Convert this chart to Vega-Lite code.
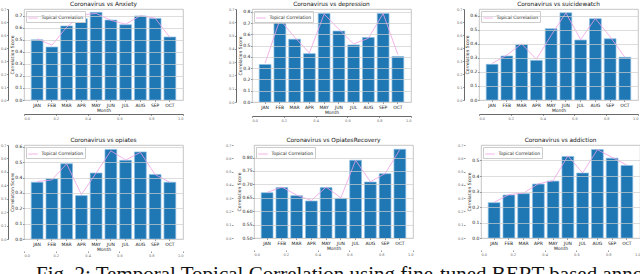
{
  "$schema": "https://vega.github.io/schema/vega-lite/v6.json",
  "padding": {"left": 0, "top": 0, "right": 0, "bottom": 0},
  "background": "white",
  "config": {
    "font": "DejaVu Sans",
    "view": {"stroke": "#b8b8b8", "strokeWidth": 0.8},
    "axis": {
      "labelFontSize": 4.5, "titleFontSize": 4.5, "labelColor": "#222", "titleColor": "#222",
      "titleFontWeight": "normal", "gridColor": "#cfcfcf", "gridWidth": 0.7, "domain": false,
      "tickColor": "#555", "tickSize": 1.5, "tickWidth": 0.6, "labelPadding": 0.5, "titlePadding": 0.5,
      "labelOverlap": false, "labelFlush": false
    },
    "title": {"fontSize": 5.8, "fontWeight": "normal", "offset": 0.5, "color": "#111"},
    "legend": {
      "orient": "top-left", "offset": 2, "labelFontSize": 4.5, "symbolType": "stroke", "symbolSize": 90,
      "symbolStrokeWidth": 1, "fillColor": "white", "strokeColor": "#cccccc", "padding": 1.5, "labelColor": "#222",
      "labelOffset": 3
    },
    "bar": {"color": "#1f77b4", "stroke": "#8dbde3", "strokeWidth": 0.7},
    "line": {"strokeWidth": 0.8}
  },
  "datasets": {
    "anxiety": [
      {"month": "JAN", "score": 0.500, "topical": 0.510},
      {"month": "FEB", "score": 0.440, "topical": 0.455},
      {"month": "MAR", "score": 0.615, "topical": 0.605},
      {"month": "APR", "score": 0.675, "topical": 0.705},
      {"month": "MAY", "score": 0.728, "topical": 0.720},
      {"month": "JUN", "score": 0.664, "topical": 0.662},
      {"month": "JUL", "score": 0.625, "topical": 0.630},
      {"month": "AUG", "score": 0.698, "topical": 0.700},
      {"month": "SEP", "score": 0.678, "topical": 0.680},
      {"month": "OCT", "score": 0.523, "topical": 0.520}
    ],
    "depression": [
      {"month": "JAN", "score": 0.333, "topical": 0.345},
      {"month": "FEB", "score": 0.728, "topical": 0.730},
      {"month": "MAR", "score": 0.557, "topical": 0.575},
      {"month": "APR", "score": 0.429, "topical": 0.435},
      {"month": "MAY", "score": 0.785, "topical": 0.780},
      {"month": "JUN", "score": 0.629, "topical": 0.645},
      {"month": "JUL", "score": 0.506, "topical": 0.515},
      {"month": "AUG", "score": 0.572, "topical": 0.565},
      {"month": "SEP", "score": 0.785, "topical": 0.785},
      {"month": "OCT", "score": 0.404, "topical": 0.420}
    ],
    "suicidewatch": [
      {"month": "JAN", "score": 0.254, "topical": 0.260},
      {"month": "FEB", "score": 0.313, "topical": 0.320},
      {"month": "MAR", "score": 0.396, "topical": 0.400},
      {"month": "APR", "score": 0.282, "topical": 0.290},
      {"month": "MAY", "score": 0.507, "topical": 0.460},
      {"month": "JUN", "score": 0.621, "topical": 0.620},
      {"month": "JUL", "score": 0.427, "topical": 0.430},
      {"month": "AUG", "score": 0.579, "topical": 0.580},
      {"month": "SEP", "score": 0.436, "topical": 0.450},
      {"month": "OCT", "score": 0.304, "topical": 0.305}
    ],
    "opiates": [
      {"month": "JAN", "score": 0.370, "topical": 0.375},
      {"month": "FEB", "score": 0.393, "topical": 0.385},
      {"month": "MAR", "score": 0.491, "topical": 0.490},
      {"month": "APR", "score": 0.283, "topical": 0.290},
      {"month": "MAY", "score": 0.430, "topical": 0.430},
      {"month": "JUN", "score": 0.584, "topical": 0.575},
      {"month": "JUL", "score": 0.513, "topical": 0.515},
      {"month": "AUG", "score": 0.568, "topical": 0.565},
      {"month": "SEP", "score": 0.421, "topical": 0.420},
      {"month": "OCT", "score": 0.370, "topical": 0.370}
    ],
    "opiatesrecovery": [
      {"month": "JAN", "score": 0.669, "topical": 0.670},
      {"month": "FEB", "score": 0.688, "topical": 0.690},
      {"month": "MAR", "score": 0.658, "topical": 0.660},
      {"month": "APR", "score": 0.638, "topical": 0.640},
      {"month": "MAY", "score": 0.688, "topical": 0.690},
      {"month": "JUN", "score": 0.648, "topical": 0.650},
      {"month": "JUL", "score": 0.790, "topical": 0.790},
      {"month": "AUG", "score": 0.709, "topical": 0.710},
      {"month": "SEP", "score": 0.740, "topical": 0.740},
      {"month": "OCT", "score": 0.831, "topical": 0.830}
    ],
    "addiction": [
      {"month": "JAN", "score": 0.228, "topical": 0.230},
      {"month": "FEB", "score": 0.277, "topical": 0.280},
      {"month": "MAR", "score": 0.286, "topical": 0.290},
      {"month": "APR", "score": 0.348, "topical": 0.350},
      {"month": "MAY", "score": 0.367, "topical": 0.370},
      {"month": "JUN", "score": 0.526, "topical": 0.530},
      {"month": "JUL", "score": 0.419, "topical": 0.420},
      {"month": "AUG", "score": 0.571, "topical": 0.570},
      {"month": "SEP", "score": 0.515, "topical": 0.520},
      {"month": "OCT", "score": 0.468, "topical": 0.470}
    ],
    "caption": [
      {"text": "Fig. 2: Temporal Topical Correlation using fine-tuned BERT-based annotation"}
    ]
  },
  "spacing": 3,
  "resolve": {"scale": {"color": "independent"}, "legend": {"color": "independent"}},
  "vconcat": [
    {
      "spacing": 14,
      "resolve": {"scale": {"color": "independent"}, "legend": {"color": "independent"}},
      "vconcat": [
        {
          "spacing": 44,
          "resolve": {"scale": {"color": "independent"}, "legend": {"color": "independent"}},
          "hconcat": [
            {
              "title": "Coronavirus vs Anxiety",
              "width": 159, "height": 91,
              "data": {"name": "anxiety"},
              "resolve": {"scale": {"x": "independent", "y": "independent"}, "axis": {"x": "independent", "y": "independent"}},
              "layer": [
                {
                  "encoding": {"x": {"field": "month", "type": "nominal", "sort": null, "title": "Month",
                    "scale": {"paddingInner": 0.2, "paddingOuter": 0.49}, "axis": {"labelAngle": 0, "zindex": 1}}},
                  "layer": [
                    {"mark": {"type": "bar", "clip": true},
                     "encoding": {"y": {"field": "score", "type": "quantitative", "title": "Correlation Score",
                       "scale": {"domain": [0, 0.756], "nice": false, "zero": false},
                       "axis": {"values": [0, 0.1, 0.2, 0.3, 0.4, 0.5, 0.6, 0.7], "tickCount": 8, "labelOverlap": false, "format": ".1f", "zindex": 1}}}},
                    {"mark": {"type": "line", "clip": true},
                     "encoding": {"y": {"field": "topical", "type": "quantitative", "title": "Correlation Score",
                       "axis": {"values": [0, 0.1, 0.2, 0.3, 0.4, 0.5, 0.6, 0.7], "tickCount": 8, "labelOverlap": false, "format": ".1f", "zindex": 1}},
                       "color": {"datum": "Topical Correlation", "type": "nominal", "scale": {"range": ["#f09fe4"]}, "legend": {"title": null}}}}
                  ]
                },
                {
                  "mark": {"type": "point", "opacity": 0},
                  "encoding": {
                    "x": {"datum": 0, "type": "quantitative", "scale": {"domain": [0, 1], "nice": false},
                      "axis": {"orient": "bottom", "offset": 14, "title": null, "values": [0, 0.2, 0.4, 0.6, 0.8, 1.0], "format": ".1f", "domain": true, "domainColor": "#444", "domainWidth": 0.8, "grid": false, "labelFontSize": 3.5, "labelColor": "#666", "labelFlush": true}},
                    "y": {"datum": 0, "type": "quantitative", "scale": {"domain": [0, 0.7], "nice": false},
                      "axis": {"orient": "left", "offset": 16, "title": null, "values": [0, 0.1, 0.2, 0.3, 0.4, 0.5, 0.6, 0.7], "format": ".1f", "domain": true, "domainColor": "#444", "domainWidth": 0.8, "grid": false, "labelFontSize": 3.5, "labelColor": "#666"}}
                  }
                }
              ]
            },
            {
              "title": "Coronavirus vs depression",
              "width": 159, "height": 93,
              "data": {"name": "depression"},
              "resolve": {"scale": {"x": "independent", "y": "independent"}, "axis": {"x": "independent", "y": "independent"}},
              "layer": [
                {
                  "encoding": {"x": {"field": "month", "type": "nominal", "sort": null, "title": "Month",
                    "scale": {"paddingInner": 0.2, "paddingOuter": 0.49}, "axis": {"labelAngle": 0, "zindex": 1}}},
                  "layer": [
                    {"mark": {"type": "bar", "clip": true},
                     "encoding": {"y": {"field": "score", "type": "quantitative", "title": "Correlation Score",
                       "scale": {"domain": [0, 0.825], "nice": false, "zero": false},
                       "axis": {"values": [0, 0.1, 0.2, 0.3, 0.4, 0.5, 0.6, 0.7, 0.8], "tickCount": 9, "labelOverlap": false, "format": ".1f", "zindex": 1}}}},
                    {"mark": {"type": "line", "clip": true},
                     "encoding": {"y": {"field": "topical", "type": "quantitative", "title": "Correlation Score",
                       "axis": {"values": [0, 0.1, 0.2, 0.3, 0.4, 0.5, 0.6, 0.7, 0.8], "tickCount": 9, "labelOverlap": false, "format": ".1f", "zindex": 1}},
                       "color": {"datum": "Topical Correlation", "type": "nominal", "scale": {"range": ["#f09fe4"]}, "legend": {"title": null}}}}
                  ]
                },
                {
                  "mark": {"type": "point", "opacity": 0},
                  "encoding": {
                    "x": {"datum": 0, "type": "quantitative", "scale": {"domain": [0, 1], "nice": false},
                      "axis": {"orient": "bottom", "offset": 14, "title": null, "values": [0, 0.2, 0.4, 0.6, 0.8, 1.0], "format": ".1f", "domain": true, "domainColor": "#444", "domainWidth": 0.8, "grid": false, "labelFontSize": 3.5, "labelColor": "#666", "labelFlush": true}},
                    "y": {"datum": 0, "type": "quantitative", "scale": {"domain": [0, 0.7], "nice": false},
                      "axis": {"orient": "left", "offset": 16, "title": null, "values": [0, 0.1, 0.2, 0.3, 0.4, 0.5, 0.6, 0.7], "format": ".1f", "domain": true, "domainColor": "#444", "domainWidth": 0.8, "grid": false, "labelFontSize": 3.5, "labelColor": "#666"}}
                  }
                }
              ]
            },
            {
              "title": "Coronavirus vs suicidewatch",
              "width": 159, "height": 91,
              "data": {"name": "suicidewatch"},
              "resolve": {"scale": {"x": "independent", "y": "independent"}, "axis": {"x": "independent", "y": "independent"}},
              "layer": [
                {
                  "encoding": {"x": {"field": "month", "type": "nominal", "sort": null, "title": "Month",
                    "scale": {"paddingInner": 0.2, "paddingOuter": 0.49}, "axis": {"labelAngle": 0, "zindex": 1}}},
                  "layer": [
                    {"mark": {"type": "bar", "clip": true},
                     "encoding": {"y": {"field": "score", "type": "quantitative", "title": "Correlation Score",
                       "scale": {"domain": [0, 0.648], "nice": false, "zero": false},
                       "axis": {"values": [0, 0.1, 0.2, 0.3, 0.4, 0.5, 0.6], "tickCount": 7, "labelOverlap": false, "format": ".1f", "zindex": 1}}}},
                    {"mark": {"type": "line", "clip": true},
                     "encoding": {"y": {"field": "topical", "type": "quantitative", "title": "Correlation Score",
                       "axis": {"values": [0, 0.1, 0.2, 0.3, 0.4, 0.5, 0.6], "tickCount": 7, "labelOverlap": false, "format": ".1f", "zindex": 1}},
                       "color": {"datum": "Topical Correlation", "type": "nominal", "scale": {"range": ["#f09fe4"]}, "legend": {"title": null}}}}
                  ]
                },
                {
                  "mark": {"type": "point", "opacity": 0},
                  "encoding": {
                    "x": {"datum": 0, "type": "quantitative", "scale": {"domain": [0, 1], "nice": false},
                      "axis": {"orient": "bottom", "offset": 14, "title": null, "values": [0, 0.2, 0.4, 0.6, 0.8, 1.0], "format": ".1f", "domain": true, "domainColor": "#444", "domainWidth": 0.8, "grid": false, "labelFontSize": 3.5, "labelColor": "#666", "labelFlush": true}},
                    "y": {"datum": 0, "type": "quantitative", "scale": {"domain": [0, 0.7], "nice": false},
                      "axis": {"orient": "left", "offset": 15, "title": null, "values": [0, 0.1, 0.2, 0.3, 0.4, 0.5, 0.6, 0.7], "format": ".1f", "domain": true, "domainColor": "#444", "domainWidth": 0.8, "grid": false, "labelFontSize": 3.5, "labelColor": "#666"}}
                  }
                }
              ]
            }
          ]
        },
        {
          "spacing": 43,
          "resolve": {"scale": {"color": "independent"}, "legend": {"color": "independent"}},
          "hconcat": [
            {
              "spacing": 41,
              "resolve": {"scale": {"color": "independent"}, "legend": {"color": "independent"}},
              "hconcat": [
                {
                  "title": "Coronavirus vs opiates",
                  "width": 159, "height": 94,
                  "data": {"name": "opiates"},
                  "resolve": {"scale": {"x": "independent", "y": "independent"}, "axis": {"x": "independent", "y": "independent"}},
                  "layer": [
                    {
                      "encoding": {"x": {"field": "month", "type": "nominal", "sort": null, "title": "Month",
                        "scale": {"paddingInner": 0.2, "paddingOuter": 0.49}, "axis": {"labelAngle": 0, "zindex": 1}}},
                      "layer": [
                        {"mark": {"type": "bar", "clip": true},
                         "encoding": {"y": {"field": "score", "type": "quantitative", "title": "Correlation Score",
                           "scale": {"domain": [0, 0.613], "nice": false, "zero": false},
                           "axis": {"values": [0, 0.1, 0.2, 0.3, 0.4, 0.5, 0.6], "tickCount": 7, "labelOverlap": false, "format": ".1f", "zindex": 1}}}},
                        {"mark": {"type": "line", "clip": true},
                         "encoding": {"y": {"field": "topical", "type": "quantitative", "title": "Correlation Score",
                           "axis": {"values": [0, 0.1, 0.2, 0.3, 0.4, 0.5, 0.6], "tickCount": 7, "labelOverlap": false, "format": ".1f", "zindex": 1}},
                           "color": {"datum": "Topical Correlation", "type": "nominal", "scale": {"range": ["#f09fe4"]}, "legend": {"title": null}}}}
                      ]
                    },
                    {
                      "mark": {"type": "point", "opacity": 0},
                      "encoding": {
                        "x": {"datum": 0, "type": "quantitative", "scale": {"domain": [0, 1], "nice": false},
                          "axis": {"orient": "bottom", "offset": 12, "title": null, "values": [0, 0.2, 0.4, 0.6, 0.8, 1.0], "format": ".1f", "domain": false, "grid": false, "labelFontSize": 3.5, "labelColor": "#666", "labelFlush": true}},
                        "y": {"datum": 0, "type": "quantitative", "scale": {"domain": [0, 0.7], "nice": false},
                          "axis": {"orient": "left", "offset": 16, "title": null, "values": [0, 0.1, 0.2, 0.3, 0.4, 0.5, 0.6, 0.7], "format": ".1f", "domain": true, "domainColor": "#444", "domainWidth": 0.8, "grid": false, "labelFontSize": 3.5, "labelColor": "#666"}}
                      }
                    }
                  ]
                },
                {
                  "title": "Coronavirus vs OpiatesRecovery",
                  "width": 159, "height": 93,
                  "data": {"name": "opiatesrecovery"},
                  "resolve": {"scale": {"x": "independent", "y": "independent"}, "axis": {"x": "independent", "y": "independent"}},
                  "layer": [
                    {
                      "encoding": {"x": {"field": "month", "type": "nominal", "sort": null, "title": "Month",
                        "scale": {"paddingInner": 0.2, "paddingOuter": 0.49}, "axis": {"labelAngle": 0, "zindex": 1}}},
                      "layer": [
                        {"mark": {"type": "bar", "clip": true},
                         "encoding": {"y": {"field": "score", "type": "quantitative", "title": "Correlation Score",
                           "scale": {"domain": [0.5, 0.847], "nice": false, "zero": false},
                           "axis": {"values": [0.5, 0.55, 0.6, 0.65, 0.7, 0.75, 0.8], "tickCount": 7, "labelOverlap": false, "format": ".2f", "zindex": 1}}}},
                        {"mark": {"type": "line", "clip": true},
                         "encoding": {"y": {"field": "topical", "type": "quantitative", "title": "Correlation Score",
                           "axis": {"values": [0.5, 0.55, 0.6, 0.65, 0.7, 0.75, 0.8], "tickCount": 7, "labelOverlap": false, "format": ".2f", "zindex": 1}},
                           "color": {"datum": "Topical Correlation", "type": "nominal", "scale": {"range": ["#f09fe4"]}, "legend": {"title": null}}}}
                      ]
                    },
                    {
                      "mark": {"type": "point", "opacity": 0},
                      "encoding": {
                        "x": {"datum": 0, "type": "quantitative", "scale": {"domain": [0, 1], "nice": false},
                          "axis": {"orient": "bottom", "offset": 12, "title": null, "values": [0, 0.2, 0.4, 0.6, 0.8, 1.0], "format": ".1f", "domain": false, "grid": false, "labelFontSize": 3.5, "labelColor": "#666", "labelFlush": true}},
                        "y": {"datum": 0, "type": "quantitative", "scale": {"domain": [0, 0.7], "nice": false},
                          "axis": {"orient": "left", "offset": 21, "title": null, "values": [0, 0.1, 0.2, 0.3, 0.4, 0.5, 0.6, 0.7], "format": ".1f", "domain": false, "grid": false, "labelFontSize": 3.5, "labelColor": "#666"}}
                      }
                    }
                  ]
                }
              ]
            },
            {
              "title": "Coronavirus vs addiction",
              "width": 159, "height": 93,
              "data": {"name": "addiction"},
              "resolve": {"scale": {"x": "independent", "y": "independent"}, "axis": {"x": "independent", "y": "independent"}},
              "layer": [
                {
                  "encoding": {"x": {"field": "month", "type": "nominal", "sort": null, "title": "Month",
                    "scale": {"paddingInner": 0.2, "paddingOuter": 0.49}, "axis": {"labelAngle": 0, "zindex": 1}}},
                  "layer": [
                    {"mark": {"type": "bar", "clip": true},
                     "encoding": {"y": {"field": "score", "type": "quantitative", "title": "Correlation Score",
                       "scale": {"domain": [0, 0.6], "nice": false, "zero": false},
                       "axis": {"values": [0, 0.1, 0.2, 0.3, 0.4, 0.5], "tickCount": 6, "labelOverlap": false, "format": ".1f", "zindex": 1}}}},
                    {"mark": {"type": "line", "clip": true},
                     "encoding": {"y": {"field": "topical", "type": "quantitative", "title": "Correlation Score",
                       "axis": {"values": [0, 0.1, 0.2, 0.3, 0.4, 0.5], "tickCount": 6, "labelOverlap": false, "format": ".1f", "zindex": 1}},
                       "color": {"datum": "Topical Correlation", "type": "nominal", "scale": {"range": ["#f09fe4"]}, "legend": {"title": null}}}}
                  ]
                },
                {
                  "mark": {"type": "point", "opacity": 0},
                  "encoding": {
                    "x": {"datum": 0, "type": "quantitative", "scale": {"domain": [0, 1], "nice": false},
                      "axis": {"orient": "bottom", "offset": 12, "title": null, "values": [0, 0.2, 0.4, 0.6, 0.8, 1.0], "format": ".1f", "domain": false, "grid": false, "labelFontSize": 3.5, "labelColor": "#666", "labelFlush": true}},
                    "y": {"datum": 0, "type": "quantitative", "scale": {"domain": [0, 0.7], "nice": false},
                      "axis": {"orient": "left", "offset": 16, "title": null, "values": [0, 0.1, 0.2, 0.3, 0.4, 0.5, 0.6, 0.7], "format": ".1f", "domain": false, "grid": false, "labelFontSize": 3.5, "labelColor": "#666"}}
                  }
                }
              ]
            }
          ]
        }
      ]
    },
    {
      "width": 628, "height": 14,
      "view": {"stroke": null},
      "data": {"name": "caption"},
      "mark": {"type": "text", "align": "left", "baseline": "top", "fontSize": 21, "font": "Liberation Serif", "clip": true, "color": "#111"},
      "encoding": {"text": {"field": "text"}, "x": {"value": 12}, "y": {"value": 4}}
    }
  ]
}
